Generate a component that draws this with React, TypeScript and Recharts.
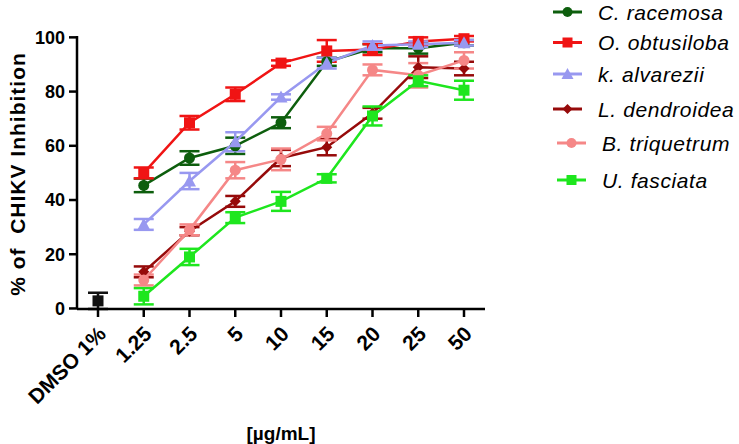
import React from "react";
import { LineChart, Line, XAxis, YAxis, ErrorBar } from "recharts";

const CATEGORIES = ["DMSO 1%", "1.25", "2.5", "5", "10", "15", "20", "25", "50"];

// DMSO control (first category only)
const DMSO_VALUE = 2.8;
const DMSO_ERR = 3;

// extract series, values for 1.25 .. 50 µg/mL
const C_RACEMOSA = [45.4, 55.5, 60, 68.5, 91, 96, 96, 98];
const C_RACEMOSA_ERR = [2.5, 2.5, 3, 2, 1.5, 1.5, 2, 1];
const O_OBTUSILOBA = [50, 68.5, 79, 90.5, 95, 95.5, 98.5, 99.5];
const O_OBTUSILOBA_ERR = [2, 2.5, 2.5, 1, 4, 2, 1.5, 1];
const K_ALVAREZII = [31, 47, 61.5, 78, 90.5, 97, 97.5, 98];
const K_ALVAREZII_ERR = [2, 3, 3.5, 1, 2, 1.5, 1, 1];
const L_DENDROIDEA = [13.5, 28.5, 39.5, 55.5, 59.5, 72, 89, 88.5];
const L_DENDROIDEA_ERR = [2, 1.5, 2, 3, 3, 2, 4, 2.5];
const B_TRIQUETRUM = [10.5, 29, 51, 55, 64.5, 88, 86, 91.5];
const B_TRIQUETRUM_ERR = [2, 2, 3, 4, 2.5, 2, 4.5, 3];
const U_FASCIATA = [4.5, 19, 33.5, 39.5, 48, 71, 84, 80.5];
const U_FASCIATA_ERR = [3, 3, 2, 3.5, 1.5, 3.5, 2, 3.5];

const Y_TICKS = [0, 20, 40, 60, 80, 100];

type Shape = "circle" | "square" | "triangle" | "diamond";

const SERIES: { key: string; name: string; color: string; shape: Shape; values: number[]; errs: number[] }[] = [
  { key: "cr", name: "C. racemosa", color: "#0d5e0d", shape: "circle", values: C_RACEMOSA, errs: C_RACEMOSA_ERR },
  { key: "oo", name: "O. obtusiloba", color: "#f01414", shape: "square", values: O_OBTUSILOBA, errs: O_OBTUSILOBA_ERR },
  { key: "ka", name: "k. alvarezii", color: "#9898f0", shape: "triangle", values: K_ALVAREZII, errs: K_ALVAREZII_ERR },
  { key: "ld", name: "L. dendroidea", color: "#960a0a", shape: "diamond", values: L_DENDROIDEA, errs: L_DENDROIDEA_ERR },
  { key: "bt", name: "B. triquetrum", color: "#f58787", shape: "circle", values: B_TRIQUETRUM, errs: B_TRIQUETRUM_ERR },
  { key: "uf", name: "U. fasciata", color: "#1ee61e", shape: "square", values: U_FASCIATA, errs: U_FASCIATA_ERR },
];

// legend row placement (the last two rows sit a bit further right)
const LEGEND_Y = [12, 42.5, 74, 109, 143, 180];
const LEGEND_DX = [0, 0, 0, 0, 4, 4];

const data = CATEGORIES.map((cat, i) => {
  const row: Record<string, any> = { cat };
  if (i === 0) {
    row.dmso = DMSO_VALUE;
    row.dmsoErr = DMSO_ERR;
  }
  SERIES.forEach((s) => {
    row[s.key] = i === 0 ? null : s.values[i - 1];
    row[s.key + "Err"] = i === 0 ? null : s.errs[i - 1];
  });
  return row;
});

const FONT = "'Liberation Sans', Arial, sans-serif";

function Marker({ cx, cy, shape, color, size = 11 }: { cx: number; cy: number; shape: Shape; color: string; size?: number }) {
  const h = size / 2;
  if (shape === "circle") return <circle cx={cx} cy={cy} r={h} fill={color} />;
  if (shape === "square") return <rect x={cx - h} y={cy - h} width={size} height={size} fill={color} />;
  if (shape === "triangle")
    return <polygon points={`${cx},${cy - h - 1} ${cx + h + 1},${cy + h} ${cx - h - 1},${cy + h}`} fill={color} />;
  return <polygon points={`${cx},${cy - h} ${cx + h},${cy} ${cx},${cy + h} ${cx - h},${cy}`} fill={color} />;
}

const makeDot = (shape: Shape, color: string) => (p: any) => {
  if (p.cy == null || p.value == null) return <g key={p.index} />;
  return <Marker key={p.index} cx={p.cx} cy={p.cy} shape={shape} color={color} />;
};

const XTick = ({ x, y, payload }: any) => (
  <g transform={`translate(${x + 4},${y + 11}) rotate(-45)`}>
    <text textAnchor="end" dy="0.35em" fontFamily={FONT} fontWeight="bold" fontSize={21} fill="#000">
      {payload.value}
    </text>
  </g>
);

// y axis title, placed at the far left of the figure
const YTitle = () => (
  <text
    x={0}
    y={0}
    transform="translate(17,174) rotate(-90)"
    textAnchor="middle"
    dominantBaseline="central"
    xmlSpace="preserve"
    fontFamily={FONT}
    fontWeight="bold"
    fontSize={21}
    letterSpacing={1}
    fill="#000"
  >
    % of  CHIKV Inhibition
  </text>
);

function LegendBox() {
  return (
    <svg width={739} height={444} style={{ position: "absolute", left: 0, top: 0, pointerEvents: "none" }}>
      {SERIES.map((s, i) => {
        const y = LEGEND_Y[i];
        const dx = LEGEND_DX[i];
        return (
          <g key={s.key}>
            <line x1={553 + dx} x2={582 + dx} y1={y} y2={y} stroke={s.color} strokeWidth={3} />
            <Marker cx={567.5 + dx} cy={y} shape={s.shape} color={s.color} size={10} />
            <text x={598 + dx} y={y} dy="0.36em" fontFamily={FONT} fontStyle="italic" fontSize={21} letterSpacing={0.6} fill="#000">
              {s.name}
            </text>
          </g>
        );
      })}
    </svg>
  );
}

export default function App() {
  return (
    <div style={{ position: "absolute", left: 0, top: 0, width: 739, height: 444, background: "#fff" }}>
      <LineChart width={739} height={444} data={data} margin={{ top: 36, right: 254, left: 0, bottom: 0 }}>
        <XAxis
          dataKey="cat"
          padding={{ left: 21, right: 21 }}
          height={135}
          interval={0}
          tick={<XTick />}
          tickSize={8}
          axisLine={{ stroke: "#000", strokeWidth: 2.5 }}
          tickLine={{ stroke: "#000", strokeWidth: 2.5 }}
          label={{
            value: "[\u00b5g/mL]",
            position: "insideBottom",
            offset: 4,
            style: { fontFamily: FONT, fontWeight: "bold", fontSize: 19, fill: "#000" },
          }}
        />
        <YAxis
          width={77}
          domain={[0, 100]}
          ticks={Y_TICKS}
          interval={0}
          tickSize={8}
          tickMargin={4}
          axisLine={{ stroke: "#000", strokeWidth: 2.5 }}
          tickLine={{ stroke: "#000", strokeWidth: 2.5 }}
          tick={{ fontFamily: FONT, fontWeight: "bold", fontSize: 18, fill: "#000" }}
          label={<YTitle />}
        />
        <Line
          dataKey="dmso"
          stroke="#000"
          strokeWidth={2.5}
          dot={makeDot("square", "#111")}
          isAnimationActive={false}
        >
          <ErrorBar dataKey="dmsoErr" width={10} strokeWidth={2.5} stroke="#111" direction="y" isAnimationActive={false} />
        </Line>
        {SERIES.map((s) => (
          <Line
            key={s.key}
            dataKey={s.key}
            name={s.name}
            stroke={s.color}
            strokeWidth={2.5}
            dot={makeDot(s.shape, s.color)}
            activeDot={false}
            isAnimationActive={false}
          >
            <ErrorBar dataKey={s.key + "Err"} width={10} strokeWidth={2.5} stroke={s.color} direction="y" isAnimationActive={false} />
          </Line>
        ))}
      </LineChart>
      <LegendBox />
    </div>
  );
}
